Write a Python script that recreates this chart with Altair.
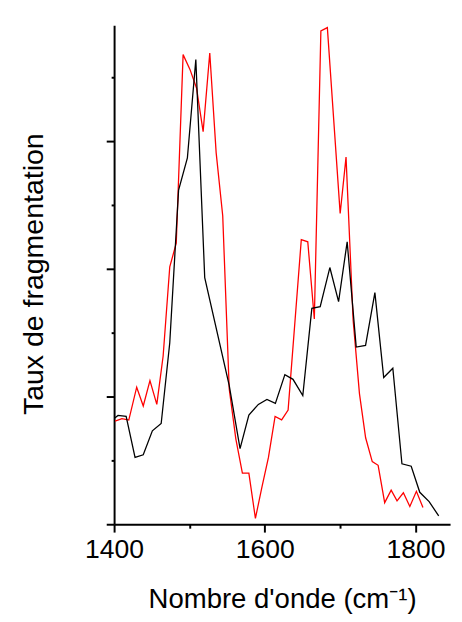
import altair as alt
import pandas as pd

# Red series (wavenumber, fragmentation rate, arbitrary units)
red_x = [1401.3, 1410.4, 1419.5, 1430.0, 1438.7, 1447.6, 1456.7, 1465.1, 1473.9, 1482.5,
         1491.6, 1500.7, 1509.4, 1518.2, 1527.0, 1535.5, 1544.2, 1552.8, 1561.6, 1570.3,
         1578.9, 1587.6, 1596.3, 1604.9, 1613.7, 1622.4, 1631.0, 1648.5, 1657.1, 1665.8,
         1674.5, 1683.1, 1700.1, 1707.9, 1717.3, 1725.7, 1733.9, 1742.7, 1750.5, 1759.2,
         1767.8, 1775.6, 1784.0, 1792.6, 1801.3, 1810.0]
red_y = [1.615, 1.654, 1.631, 2.146, 1.851, 2.249, 1.877, 2.635, 4.031, 4.400,
         7.354, 7.123, 6.831, 6.149, 7.380, 5.815, 4.831, 2.123, 1.338, 0.800,
         0.800, 0.092, 0.585, 1.046, 1.688, 1.635, 1.789, 4.457, 4.423, 3.215,
         7.726, 7.777, 4.866, 5.749, 3.200, 2.046, 1.354, 0.980, 0.923, 0.338,
         0.534, 0.365, 0.492, 0.277, 0.515, 0.262]

# Black series
black_x = [1400.9, 1405.2, 1416.0, 1427.8, 1438.7, 1450.8, 1462.5, 1473.9, 1485.6, 1497.3,
           1508.5, 1520.3, 1552.8, 1567.2, 1578.9, 1591.5, 1602.9, 1614.1, 1626.7, 1637.5,
           1650.5, 1662.5, 1673.6, 1686.4, 1698.0, 1709.4, 1721.4, 1733.8, 1746.2, 1757.9,
           1770.0, 1782.1, 1794.4, 1805.8, 1818.2, 1830.9]
black_y = [1.662, 1.703, 1.688, 1.046, 1.088, 1.462, 1.577, 2.842, 5.231, 5.738,
           7.277, 3.862, 2.174, 1.185, 1.708, 1.877, 1.954, 1.892, 2.343, 2.269,
           2.015, 3.380, 3.408, 4.020, 3.485, 4.423, 2.774, 2.800, 3.626, 2.297,
           2.442, 0.946, 0.908, 0.500, 0.354, 0.131]

x_major = [1400, 1600, 1800]
x_minor = [1500, 1700]
y_major = [0, 2, 4, 6]
y_minor = [1, 3, 5, 7]

red_df = pd.DataFrame({"x": red_x, "y": red_y})
black_df = pd.DataFrame({"x": black_x, "y": black_y})

FONT = "Liberation Sans"
xs = alt.Scale(domain=[1400, 1846], nice=False, zero=False)
ys = alt.Scale(domain=[0, 7.815], nice=False, zero=False)

x_axis_main = alt.Axis(
    orient="bottom", values=x_major, format="d", grid=False, labelFlush=False,
    tickSize=8, tickWidth=2, tickColor="black",
    domainWidth=2, domainColor="black",
    labelFont=FONT, labelFontSize=27, labelColor="black", labelPadding=5,
    title="Nombre d'onde (cm\u207b\u00b9)", titleFont=FONT, titleFontSize=28,
    titleFontWeight="normal", titleColor="black", titleY=85, titleBaseline="alphabetic",
)
y_axis_main = alt.Axis(
    orient="left", values=y_major, grid=False, labels=False,
    tickSize=8, tickWidth=2, tickColor="black",
    domainWidth=2, domainColor="black",
    title="Taux de fragmentation", titleFont=FONT, titleFontSize=29,
    titleFontWeight="normal", titleColor="black", titleAngle=270,
    titleX=-82, titleY=253, titleAlign="center", titleBaseline="middle",
)
x_axis_minor = alt.Axis(
    orient="bottom", values=x_minor, grid=False, labels=False, domain=False,
    tickSize=4, tickWidth=2, tickColor="black", title=None,
)
y_axis_minor = alt.Axis(
    orient="left", values=y_minor, grid=False, labels=False, domain=False,
    tickSize=3, tickWidth=2, tickColor="black", title=None,
)

red_line = alt.Chart(red_df).mark_line(color="#ff0000", strokeWidth=1.3).encode(
    x=alt.X("x:Q", scale=xs, axis=x_axis_main),
    y=alt.Y("y:Q", scale=ys, axis=y_axis_main),
)
black_line = alt.Chart(black_df).mark_line(color="black", strokeWidth=1.3).encode(
    x=alt.X("x:Q", scale=xs, axis=None),
    y=alt.Y("y:Q", scale=ys, axis=None),
)
minor = alt.Chart(red_df).mark_line(strokeOpacity=0).encode(
    x=alt.X("x:Q", scale=xs, axis=x_axis_minor),
    y=alt.Y("y:Q", scale=ys, axis=y_axis_minor),
)

chart = alt.layer(minor, red_line, black_line).resolve_axis(
    x="independent", y="independent"
).properties(
    width=342, height=508,
    autosize=alt.AutoSizeParams(type="none"),
    padding={"left": 108, "top": 12, "right": 4, "bottom": 93},
).configure_view(stroke=None)

chart.save("out.html", embed_options={"renderer": "svg", "actions": False})
